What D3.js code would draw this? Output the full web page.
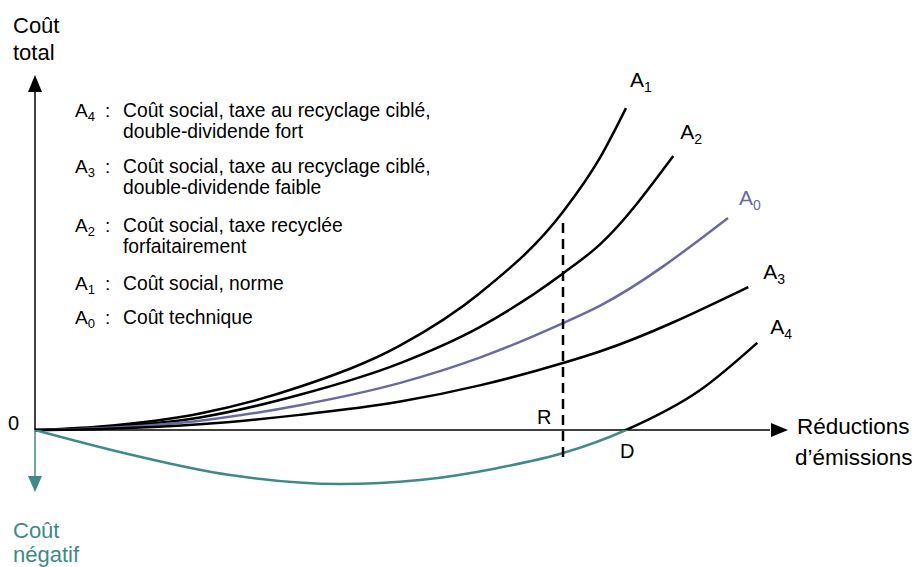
<!DOCTYPE html>
<html>
<head>
<meta charset="utf-8">
<script src="https://d3js.org/d3.v7.min.js"></script>
<style>
  body { margin: 0; background: #fff; }
  text { font-family: "Liberation Sans", Arial, sans-serif; }
</style>
</head>
<body>
<script>
  // curves: [reduction, cost]
  const a1 = [[0,0],[8.7,1],[22,4.6],[35.3,12],[48.7,23.5],[59.3,38],[70.4,60.6],[75.3,75.5],[78.8,89.4]];
  const a2 = [[0,0],[8.7,0.7],[22,3.5],[35.3,9.8],[48.7,18.6],[59.3,28.6],[70.4,43.5],[75.3,51.5],[85.1,76.1]];
  const a0 = [[0,0],[8.7,0.5],[22,2.6],[35.3,6.9],[48.7,13.1],[59.3,20.1],[70.4,29.7],[75.3,34.5],[92.4,58.9]];
  const a3 = [[0,0],[8.7,0.3],[22,1.6],[35.3,4.2],[48.7,7.9],[59.3,12.4],[70.4,18.6],[75.3,21.8],[95.1,39.7]];
  const a4 = [[0,0],[11.3,-6.1],[26,-12.5],[40.7,-15],[51.3,-13.9],[61.6,-10.6],[70.4,-6.4],[78.8,0],[88.7,11.1],[96.3,24.2]];

  const curveNames = ["A1", "A2", "A0", "A3", "A4"];
  const rPoint = [70.4, -7.5, 57.8]; // x, bottom, top of the dashed line

  const legendKeys = ["4", "3", "2", "1", "0"];
  const legendLines = [
    ["Coût social, taxe au recyclage ciblé,", "double-dividende fort"],
    ["Coût social, taxe au recyclage ciblé,", "double-dividende faible"],
    ["Coût social, taxe recyclée", "forfaitairement"],
    ["Coût social, norme"],
    ["Coût technique"]
  ];

  const width = 918, height = 567;
  const black = "#000", teal = "#3f8a87", purple = "#6a6aa0";

  const x = d3.scaleLinear().domain([0, 100]).range([35, 785]);
  const y = d3.scaleLinear().domain([-20, 100]).range([502, 70]);

  const svg = d3.select("body").append("svg")
    .attr("width", width)
    .attr("height", height);

  // clip areas above / below the zero line, for A4
  const defs = svg.append("defs");
  defs.append("clipPath").attr("id", "above")
    .append("rect").attr("x", 0).attr("y", 0).attr("width", width).attr("height", y(0));
  defs.append("clipPath").attr("id", "below")
    .append("rect").attr("x", 0).attr("y", y(0)).attr("width", width).attr("height", height - y(0));

  // axes
  svg.append("line")
    .attr("x1", x(0)).attr("y1", y(0)).attr("x2", x(0)).attr("y2", y(96))
    .attr("stroke", black).attr("stroke-width", 1.5);
  svg.append("path")
    .attr("d", "M" + x(0) + "," + y(98.6) + "l-7,17h14z")
    .attr("fill", black);

  svg.append("line")
    .attr("x1", x(0)).attr("y1", y(0)).attr("x2", x(98)).attr("y2", y(0))
    .attr("stroke", black).attr("stroke-width", 1.5);
  svg.append("path")
    .attr("d", "M" + x(100.4) + "," + y(0) + "l-17,-7v14z")
    .attr("fill", black);

  svg.append("line")
    .attr("x1", x(0)).attr("y1", y(0)).attr("x2", x(0)).attr("y2", y(-13))
    .attr("stroke", teal).attr("stroke-width", 1.5);
  svg.append("path")
    .attr("d", "M" + x(0) + "," + y(-17.2) + "l-7,-16h14z")
    .attr("fill", teal);

  const line = d3.line()
    .x(function(d) { return x(d[0]); })
    .y(function(d) { return y(d[1]); })
    .curve(d3.curveMonotoneX);

  const curves = [a1, a2, a0, a3];
  const colors = [black, black, purple, black];
  curves.forEach(function(c, i) {
    svg.append("path")
      .attr("d", line(c))
      .attr("fill", "none")
      .attr("stroke", colors[i])
      .attr("stroke-width", 2.5);
  });

  svg.append("path")
    .attr("d", line(a4))
    .attr("clip-path", "url(#below)")
    .attr("fill", "none").attr("stroke", teal).attr("stroke-width", 2.5);
  svg.append("path")
    .attr("d", line(a4))
    .attr("clip-path", "url(#above)")
    .attr("fill", "none").attr("stroke", black).attr("stroke-width", 2.5);

  // R dashed line
  svg.append("line")
    .attr("x1", x(rPoint[0])).attr("x2", x(rPoint[0]))
    .attr("y1", y(rPoint[1])).attr("y2", y(rPoint[2]))
    .attr("stroke", black).attr("stroke-width", 2.5)
    .attr("stroke-dasharray", "10,6");

  // curve labels at the end of each curve
  const allCurves = [a1, a2, a0, a3, a4];
  const labelOffsets = [[4, -21], [7, -17], [11, -13], [15, -8], [13, -9]];
  allCurves.forEach(function(c, i) {
    const end = c[c.length - 1];
    const t = svg.append("text")
      .attr("x", x(end[0]) + labelOffsets[i][0])
      .attr("y", y(end[1]) + labelOffsets[i][1])
      .attr("font-size", "21px")
      .attr("fill", curveNames[i] == "A0" ? purple : black);
    t.append("tspan").text("A");
    t.append("tspan").attr("font-size", "14px").attr("dy", 5).text(curveNames[i].slice(1));
  });

  // legend
  const legendTop = 117;
  const rowGap = [0, 56, 115, 173, 207];
  legendKeys.forEach(function(k, i) {
    const by = legendTop + rowGap[i];
    const t = svg.append("text").attr("x", 75).attr("y", by).attr("font-size", "19px");
    t.append("tspan").text("A");
    t.append("tspan").attr("font-size", "13px").attr("dy", 4).text(k);
    svg.append("text").attr("x", 105).attr("y", by).attr("font-size", "19px").text(":");
    legendLines[i].forEach(function(s, j) {
      svg.append("text")
        .attr("x", 123).attr("y", by + j * 21)
        .attr("font-size", "19.3px")
        .text(s);
    });
  });

  // axis titles
  svg.append("text").attr("x", 13).attr("y", 33).attr("font-size", "22px").text("Coût");
  svg.append("text").attr("x", 13).attr("y", 60).attr("font-size", "22px").text("total");
  svg.append("text").attr("x", 8).attr("y", 430).attr("font-size", "20px").text("0");
  svg.append("text").attr("x", 797).attr("y", 434).attr("font-size", "22.5px").text("Réductions");
  svg.append("text").attr("x", 795).attr("y", 465).attr("font-size", "22.5px").text("d’émissions");
  svg.append("text").attr("x", 13).attr("y", 538).attr("font-size", "22px").attr("fill", teal).text("Coût");
  svg.append("text").attr("x", 13).attr("y", 562).attr("font-size", "22px").attr("fill", teal).text("négatif");
  svg.append("text").attr("x", 537).attr("y", 424).attr("font-size", "20px").text("R");
  svg.append("text").attr("x", 620).attr("y", 458).attr("font-size", "20px").text("D");
</script>
</body>
</html>
